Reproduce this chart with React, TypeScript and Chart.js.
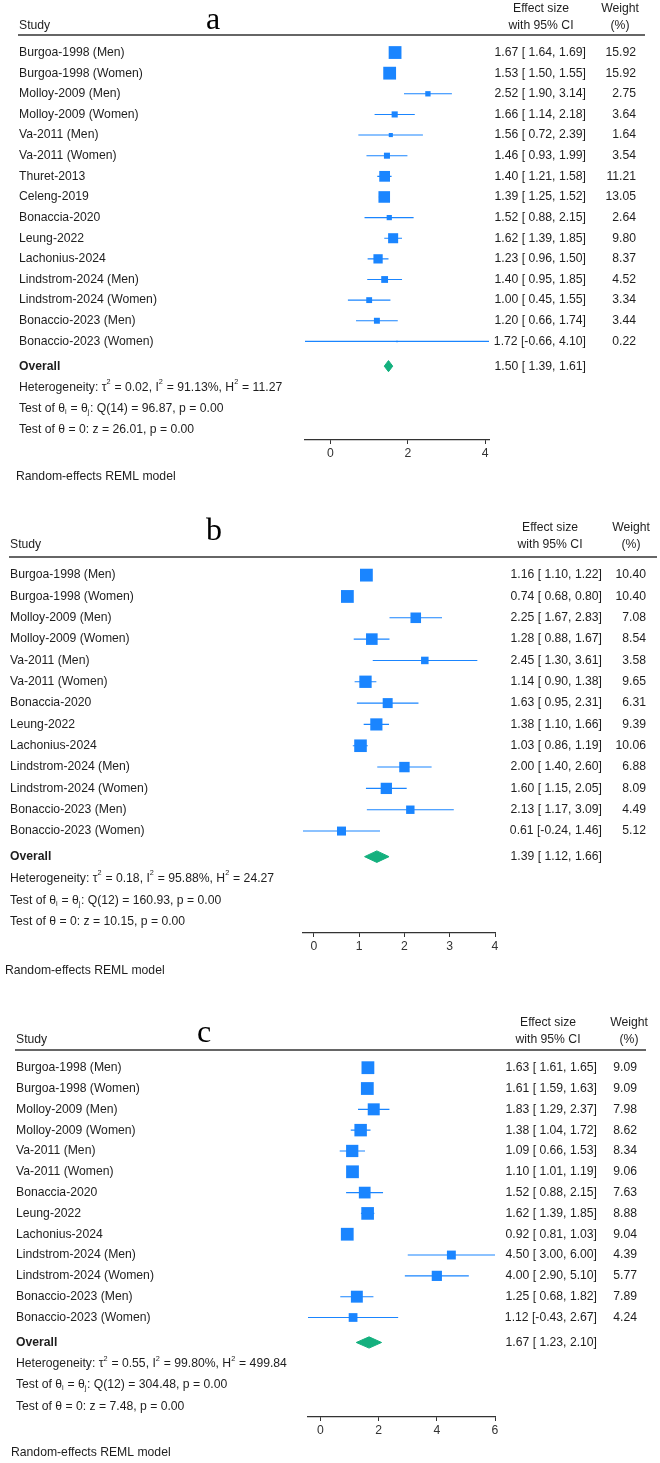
import React, { useEffect, useRef } from "react";
import { Chart, registerables } from "chart.js";

Chart.register(...registerables);

// ---------------- Panel a data ----------------
const studiesA = [
  "Burgoa-1998 (Men)", "Burgoa-1998 (Women)", "Molloy-2009 (Men)", "Molloy-2009 (Women)",
  "Va-2011 (Men)", "Va-2011 (Women)", "Thuret-2013", "Celeng-2019", "Bonaccia-2020",
  "Leung-2022", "Lachonius-2024", "Lindstrom-2024 (Men)", "Lindstrom-2024 (Women)",
  "Bonaccio-2023 (Men)", "Bonaccio-2023 (Women)",
];
const estA = [1.67, 1.53, 2.52, 1.66, 1.56, 1.46, 1.40, 1.39, 1.52, 1.62, 1.23, 1.40, 1.00, 1.20, 1.72];
const loA = [1.64, 1.50, 1.90, 1.14, 0.72, 0.93, 1.21, 1.25, 0.88, 1.39, 0.96, 0.95, 0.45, 0.66, -0.66];
const hiA = [1.69, 1.55, 3.14, 2.18, 2.39, 1.99, 1.58, 1.52, 2.15, 1.85, 1.50, 1.85, 1.55, 1.74, 4.10];
const weightA = [15.92, 15.92, 2.75, 3.64, 1.64, 3.54, 11.21, 13.05, 2.64, 9.80, 8.37, 4.52, 3.34, 3.44, 0.22];
const overallA = [1.50, 1.39, 1.61];
const hetA = ["0.02", "91.13%", "11.27"];
const qA = ["14", "96.87", "0.00"];
const zA = ["26.01", "0.00"];
const ticksA = [0, 2, 4];
const rangeA = [-0.66, 4.10];

// ---------------- Panel b data ----------------
const studiesB = [
  "Burgoa-1998 (Men)", "Burgoa-1998 (Women)", "Molloy-2009 (Men)", "Molloy-2009 (Women)",
  "Va-2011 (Men)", "Va-2011 (Women)", "Bonaccia-2020", "Leung-2022", "Lachonius-2024",
  "Lindstrom-2024 (Men)", "Lindstrom-2024 (Women)", "Bonaccio-2023 (Men)", "Bonaccio-2023 (Women)",
];
const estB = [1.16, 0.74, 2.25, 1.28, 2.45, 1.14, 1.63, 1.38, 1.03, 2.00, 1.60, 2.13, 0.61];
const loB = [1.10, 0.68, 1.67, 0.88, 1.30, 0.90, 0.95, 1.10, 0.86, 1.40, 1.15, 1.17, -0.24];
const hiB = [1.22, 0.80, 2.83, 1.67, 3.61, 1.38, 2.31, 1.66, 1.19, 2.60, 2.05, 3.09, 1.46];
const weightB = [10.40, 10.40, 7.08, 8.54, 3.58, 9.65, 6.31, 9.39, 10.06, 6.88, 8.09, 4.49, 5.12];
const overallB = [1.39, 1.12, 1.66];
const hetB = ["0.18", "95.88%", "24.27"];
const qB = ["12", "160.93", "0.00"];
const zB = ["10.15", "0.00"];
const ticksB = [0, 1, 2, 3, 4];
const rangeB = [-0.24, 4];

// ---------------- Panel c data ----------------
const studiesC = [
  "Burgoa-1998 (Men)", "Burgoa-1998 (Women)", "Molloy-2009 (Men)", "Molloy-2009 (Women)",
  "Va-2011 (Men)", "Va-2011 (Women)", "Bonaccia-2020", "Leung-2022", "Lachonius-2024",
  "Lindstrom-2024 (Men)", "Lindstrom-2024 (Women)", "Bonaccio-2023 (Men)", "Bonaccio-2023 (Women)",
];
const estC = [1.63, 1.61, 1.83, 1.38, 1.09, 1.10, 1.52, 1.62, 0.92, 4.50, 4.00, 1.25, 1.12];
const loC = [1.61, 1.59, 1.29, 1.04, 0.66, 1.01, 0.88, 1.39, 0.81, 3.00, 2.90, 0.68, -0.43];
const hiC = [1.65, 1.63, 2.37, 1.72, 1.53, 1.19, 2.15, 1.85, 1.03, 6.00, 5.10, 1.82, 2.67];
const weightC = [9.09, 9.09, 7.98, 8.62, 8.34, 9.06, 7.63, 8.88, 9.04, 4.39, 5.77, 7.89, 4.24];
const overallC = [1.67, 1.23, 2.10];
const hetC = ["0.55", "99.80%", "499.84"];
const qC = ["12", "304.48", "0.00"];
const zC = ["7.48", "0.00"];
const ticksC = [0, 2, 4, 6];
const rangeC = [-0.43, 6];

// ---------------- styles / layout ----------------
const FONT = '"Liberation Sans", Arial, Helvetica, sans-serif';
const SERIF = '"Liberation Serif", "Times New Roman", serif';
const FS = 12.2;
const TEXT = "#1e1e1e";
const BLUE = "rgb(26,133,255)";
const GREEN = "rgb(20,176,126)";
const AXIS_COLOR = "#333333";
const TICK_LEN = 4;
const TICK_PAD = 2;
const AXIS_H = TICK_LEN + FS * 1.2 + TICK_PAD * 2;
const MAX_SIDE = 12.8;
const DIAMOND_HALF = 0.27;

type Layout = {
  top: number; height: number; letter: string; letterX: number; letterY: number;
  labelX: number; noteX: number; headY1: number; headY2: number; lineY: number; lineEnd: number;
  axisY: number; axisL: number; axisR: number; effR: number; effC: number; wR: number; wC: number; noteY: number;
};

type Panel = {
  studies: string[]; est: number[]; lo: number[]; hi: number[]; weight: number[];
  overall: number[]; het: string[]; q: string[]; z: string[]; ticks: number[]; range: number[];
  L: Layout;
};

const PANELS: Panel[] = [
  {
    studies: studiesA, est: estA, lo: loA, hi: hiA, weight: weightA, overall: overallA,
    het: hetA, q: qA, z: zA, ticks: ticksA, range: rangeA,
    L: { top: 0, height: 490, letter: "a", letterX: 206, letterY: 29, labelX: 19, noteX: 16,
      headY1: 9, headY2: 26, lineY: 35, lineEnd: 645, axisY: 440, axisL: 305, axisR: 489,
      effR: 586, effC: 541, wR: 636, wC: 620, noteY: 477 },
  },
  {
    studies: studiesB, est: estB, lo: loB, hi: hiB, weight: weightB, overall: overallB,
    het: hetB, q: qB, z: zB, ticks: ticksB, range: rangeB,
    L: { top: 490, height: 495, letter: "b", letterX: 206, letterY: 50, labelX: 10, noteX: 5,
      headY1: 38, headY2: 55, lineY: 67, lineEnd: 657, axisY: 443, axisL: 303, axisR: 495,
      effR: 602, effC: 550, wR: 646, wC: 631, noteY: 481 },
  },
  {
    studies: studiesC, est: estC, lo: loC, hi: hiC, weight: weightC, overall: overallC,
    het: hetC, q: qC, z: zC, ticks: ticksC, range: rangeC,
    L: { top: 985, height: 478, letter: "c", letterX: 197, letterY: 57, labelX: 16, noteX: 11,
      headY1: 38, headY2: 55, lineY: 65, lineEnd: 646, axisY: 432, axisL: 308, axisR: 495,
      effR: 597, effC: 548, wR: 637, wC: 629, noteY: 468 },
  },
];

const f2 = (v: number) => v.toFixed(2);
const pad5 = (v: number) => (v < 0 ? f2(v) : " " + f2(v));
const effText = (e: number, lo: number, hi: number) => `${f2(e)} [${pad5(lo)}, ${f2(hi)}]`;

type Seg = { t: string; s?: "sup" | "sub" };

function drawRich(ctx: CanvasRenderingContext2D, x: number, y: number, segs: Seg[]) {
  let cx = x;
  for (const sg of segs) {
    if (sg.s) {
      ctx.font = `${FS * 0.6}px ${FONT}`;
      const dy = sg.s === "sup" ? -FS * 0.42 : FS * 0.28;
      ctx.fillText(sg.t, cx, y + dy);
      cx += ctx.measureText(sg.t).width + 0.5;
    } else {
      ctx.font = `${FS}px ${FONT}`;
      ctx.fillText(sg.t, cx, y);
      cx += ctx.measureText(sg.t).width;
    }
  }
}

function makeChart(canvas: HTMLCanvasElement, p: Panel) {
  const L = p.L;
  const n = p.studies.length;
  const yMin = -0.85;
  const yMax = n + 3.78;
  const maxW = Math.max(...p.weight);

  const ciData: any[] = [];
  p.lo.forEach((lo, i) => {
    ciData.push({ x: lo, y: i }, { x: p.hi[i], y: i }, { x: null, y: null });
  });
  const sqData = p.est.map((e, i) => ({ x: e, y: i }));
  const sqRadius = p.weight.map((w) => (MAX_SIDE * Math.sqrt(w / maxW)) / Math.SQRT2);
  const oy = n + 0.2;
  const [oe, olo, ohi] = p.overall;
  const diamond = [
    { x: olo, y: oy }, { x: oe, y: oy - DIAMOND_HALF }, { x: ohi, y: oy },
    { x: oe, y: oy + DIAMOND_HALF }, { x: olo, y: oy },
  ];

  const textPlugin = {
    id: "forestText",
    afterDraw(chart: any) {
      const ctx: CanvasRenderingContext2D = chart.ctx;
      const ys = chart.scales.y;
      ctx.save();

      // panel letter
      ctx.font = `32px ${SERIF}`;
      ctx.textBaseline = "alphabetic";
      ctx.textAlign = "left";
      ctx.fillStyle = "#000";
      ctx.fillText(L.letter, L.letterX, L.letterY);

      ctx.fillStyle = TEXT;
      ctx.textBaseline = "middle";
      ctx.font = `${FS}px ${FONT}`;
      // headers
      ctx.textAlign = "left";
      ctx.fillText("Study", L.labelX, L.headY2);
      ctx.textAlign = "center";
      ctx.fillText("Effect size", L.effC, L.headY1);
      ctx.fillText("with 95% CI", L.effC, L.headY2);
      ctx.fillText("Weight", L.wC, L.headY1);
      ctx.fillText("(%)", L.wC, L.headY2);

      // header rule
      ctx.strokeStyle = AXIS_COLOR;
      ctx.lineWidth = 1.5;
      ctx.beginPath();
      ctx.moveTo(L.labelX - 1, chart.chartArea.top);
      ctx.lineTo(L.lineEnd, chart.chartArea.top);
      ctx.stroke();

      // study rows
      p.studies.forEach((s, i) => {
        const y = ys.getPixelForValue(i);
        ctx.textAlign = "left";
        ctx.fillText(s, L.labelX, y);
        ctx.textAlign = "right";
        ctx.fillText(effText(p.est[i], p.lo[i], p.hi[i]), L.effR, y);
        ctx.fillText(f2(p.weight[i]), L.wR, y);
      });

      // overall
      const yo = ys.getPixelForValue(oy);
      ctx.textAlign = "left";
      ctx.font = `bold ${FS}px ${FONT}`;
      ctx.fillText("Overall", L.labelX, yo);
      ctx.font = `${FS}px ${FONT}`;
      ctx.textAlign = "right";
      ctx.fillText(effText(oe, olo, ohi), L.effR, yo);

      // heterogeneity lines
      ctx.textAlign = "left";
      drawRich(ctx, L.labelX, ys.getPixelForValue(n + 1.22), [
        { t: "Heterogeneity: \u03C4" }, { t: "2", s: "sup" }, { t: ` = ${p.het[0]}, I` }, { t: "2", s: "sup" },
        { t: ` = ${p.het[1]}, H` }, { t: "2", s: "sup" }, { t: ` = ${p.het[2]}` },
      ]);
      drawRich(ctx, L.labelX, ys.getPixelForValue(n + 2.24), [
        { t: "Test of \u03B8" }, { t: "i", s: "sub" }, { t: " = \u03B8" }, { t: "j", s: "sub" },
        { t: `: Q(${p.q[0]}) = ${p.q[1]}, p = ${p.q[2]}` },
      ]);
      drawRich(ctx, L.labelX, ys.getPixelForValue(n + 3.26), [
        { t: `Test of \u03B8 = 0: z = ${p.z[0]}, p = ${p.z[1]}` },
      ]);

      ctx.font = `${FS}px ${FONT}`;
      ctx.textAlign = "left";
      ctx.fillText("Random-effects REML model", L.noteX, L.noteY);
      ctx.restore();
    },
  };

  return new Chart(canvas, {
    type: "scatter",
    data: {
      datasets: [
        {
          type: "scatter",
          data: sqData,
          pointStyle: "rect",
          pointRadius: sqRadius,
          pointHoverRadius: sqRadius,
          backgroundColor: BLUE,
          borderColor: BLUE,
          borderWidth: 0,
          order: 0,
        } as any,
        {
          type: "line",
          data: diamond,
          borderColor: GREEN,
          backgroundColor: GREEN,
          borderWidth: 1,
          pointRadius: 0,
          tension: 0,
          fill: "shape",
          order: 1,
        } as any,
        {
          type: "line",
          data: ciData,
          borderColor: BLUE,
          borderWidth: 1.1,
          pointRadius: 0,
          tension: 0,
          spanGaps: false,
          fill: false,
          order: 2,
        } as any,
      ],
    },
    options: {
      responsive: false,
      animation: false,
      events: [],
      layout: {
        padding: {
          left: L.axisL,
          right: 660 - L.axisR,
          top: L.lineY,
          bottom: L.height - L.axisY - AXIS_H,
        },
      },
      scales: {
        x: {
          type: "linear",
          position: "bottom",
          min: p.range[0],
          max: p.range[1],
          afterBuildTicks: (scale: any) => {
            scale.ticks = p.ticks.map((v) => ({ value: v }));
          },
          grid: {
            display: true,
            drawOnChartArea: false,
            drawTicks: true,
            tickLength: TICK_LEN,
            color: AXIS_COLOR,
            lineWidth: 1,
          },
          border: { display: true, color: AXIS_COLOR, width: 1.2 },
          ticks: {
            padding: TICK_PAD,
            color: AXIS_COLOR,
            font: { family: FONT, size: FS },
            maxRotation: 0,
            callback: (v: any) => String(v),
          },
        },
        y: {
          type: "linear",
          min: yMin,
          max: yMax,
          reverse: true,
          display: false,
        },
      },
      plugins: {
        legend: { display: false },
        tooltip: { enabled: false },
      },
    } as any,
    plugins: [textPlugin],
  });
}

export default function App() {
  const r0 = useRef<HTMLCanvasElement>(null);
  const r1 = useRef<HTMLCanvasElement>(null);
  const r2 = useRef<HTMLCanvasElement>(null);
  const refs = [r0, r1, r2];

  useEffect(() => {
    const charts = PANELS.map((p, k) => makeChart(refs[k].current as HTMLCanvasElement, p));
    return () => charts.forEach((c) => c.destroy());
  }, []);

  return (
    <div style={{ position: "absolute", left: 0, top: 0, width: 660, height: 1463, background: "#fff" }}>
      {PANELS.map((p, k) => (
        <canvas
          key={k}
          ref={refs[k]}
          width={660}
          height={p.L.height}
          style={{ position: "absolute", left: 0, top: p.L.top, width: 660, height: p.L.height }}
        />
      ))}
    </div>
  );
}
